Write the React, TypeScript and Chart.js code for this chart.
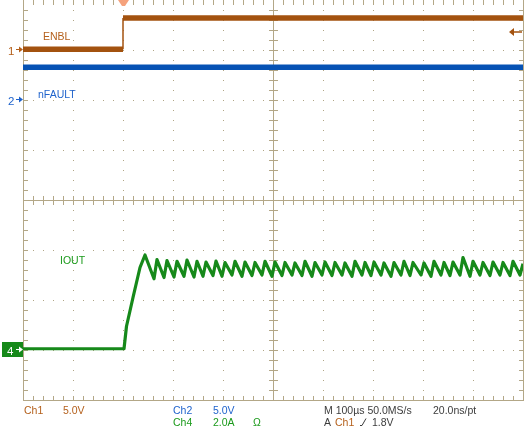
import React, { useEffect, useRef } from "react";
import { Chart, registerables } from "chart.js";

Chart.register(...registerables);

// ---- data (time in µs, M = 100 µs/div, trigger at t = 0) ----
const timeRange = [-200, 800];

// Ch1 ENBL, 5.0 V/div
const enblTimes = [-200, 0, 0, 800];
const enblVolts = [0.08, 0.08, 3.2, 3.2];

// Ch2 nFAULT, 5.0 V/div
const nfaultTimes = [-200, 800];
const nfaultVolts = [3.27, 3.27];

// Ch4 IOUT, 2.0 A/div
const ioutTimes = [
  -200, 2, 7, 20, 34, 44,
  62, 68, 82, 88, 102, 108, 122, 128, 142, 148, 160, 166, 180, 186,
  198, 204, 218, 224, 238, 244, 258, 264, 278, 284, 298, 304, 318, 324,
  338, 344, 358, 364, 378, 384, 398, 404, 418, 424, 438, 444, 458, 464,
  478, 484, 496, 502, 516, 522, 536, 542, 556, 562, 574, 580, 596, 602,
  616, 622, 636, 642, 654, 660, 674, 680, 694, 700, 714, 720, 734, 740,
  754, 760, 774, 780, 794, 800,
];
const ioutAmps = [
  0.05, 0.05, 0.95, 2.1, 3.3, 3.8,
  2.85, 3.62, 2.9, 3.58, 2.92, 3.55, 2.95, 3.6, 2.92, 3.55, 2.95, 3.52, 2.98, 3.56,
  2.95, 3.5, 3.0, 3.55, 2.95, 3.52, 2.98, 3.5, 3.0, 3.55, 2.95, 3.52, 2.98, 3.5,
  3.0, 3.48, 2.98, 3.55, 2.95, 3.5, 3.0, 3.52, 2.98, 3.5, 3.0, 3.48, 2.95, 3.55,
  3.0, 3.5, 2.98, 3.52, 3.0, 3.48, 2.95, 3.5, 3.0, 3.55, 2.98, 3.5, 3.0, 3.48,
  2.95, 3.55, 3.0, 3.5, 2.98, 3.52, 3.0, 3.7, 2.95, 3.55, 3.0, 3.5, 2.98, 3.52,
  3.0, 3.5, 2.98, 3.55, 3.0, 3.45,
];

// axis ranges per channel (8 divisions tall)
const ch1Range = [-35, 5];
const ch2Range = [-30, 10];
const ch4Range = [-2, 14];

// labels
const traceLabels = ["ENBL", "nFAULT", "IOUT"];
const ch1Setting = ["Ch1", "5.0V"];
const ch2Setting = ["Ch2", "5.0V"];
const ch4Setting = ["Ch4", "2.0A", "Ω"];
const timebaseText = ["M 100µs 50.0MS/s", "20.0ns/pt"];
const triggerText = ["A", "Ch1", "1.8V"];
const triggerLevel = 1.8;

// ---- styles ----
const ENBL_C = "#a3520f";
const ENBL_T = "#b4601c";
const NF_C = "#0652b4";
const NF_T = "#1f63cc";
const IO_C = "#16891a";
const IO_T = "#1b9a1b";
const GRID = "#b3a787";
const DOT = "#b0a585";
const DARK = "#3c3c3c";
const FONT = "10.5px 'Liberation Sans', Arial, sans-serif";

const pts = (xs: number[], ys: number[]) => xs.map((x, i) => ({ x, y: ys[i] }));

const gridPlugin = {
  id: "scopeGrid",
  beforeDatasetsDraw(chart: any) {
    const { ctx, chartArea: a } = chart;
    const L = a.left, R = a.right, T = a.top, B = a.bottom;
    const dx = (R - L) / 10, dy = (B - T) / 8;
    const mx = dx / 5, my = dy / 5;
    ctx.save();
    ctx.fillStyle = DOT;
    for (let i = 1; i < 10; i++) {
      if (i === 5) continue;
      const x = Math.round(L + i * dx);
      for (let k = 1; k < 40; k++) ctx.fillRect(x, Math.round(T + k * my), 1, 1);
    }
    for (let j = 1; j < 8; j++) {
      if (j === 4) continue;
      const y = Math.round(T + j * dy);
      for (let k = 1; k < 50; k++) ctx.fillRect(Math.round(L + k * mx), y, 1, 1);
    }
    ctx.strokeStyle = GRID;
    ctx.lineWidth = 1;
    const cx = Math.round(L + 5 * dx) + 0.5;
    const cy = Math.round(T + 4 * dy) + 0.5;
    ctx.beginPath();
    ctx.moveTo(cx, T); ctx.lineTo(cx, B);
    ctx.moveTo(L, cy); ctx.lineTo(R, cy);
    ctx.moveTo(L + 0.5, T); ctx.lineTo(L + 0.5, B + 1);
    ctx.moveTo(R + 0.5, T); ctx.lineTo(R + 0.5, B + 1);
    ctx.moveTo(L, B + 0.5); ctx.lineTo(R + 1, B + 0.5);
    for (let k = 1; k < 50; k++) {
      const x = Math.round(L + k * mx) + 0.5;
      ctx.moveTo(x, cy - 4.5); ctx.lineTo(x, cy + 4.5);
      ctx.moveTo(x, B + 1); ctx.lineTo(x, B - 4);
      ctx.moveTo(x, T); ctx.lineTo(x, T + 5);
    }
    for (let k = 1; k < 40; k++) {
      const y = Math.round(T + k * my) + 0.5;
      ctx.moveTo(cx - 4.5, y); ctx.lineTo(cx + 4.5, y);
      ctx.moveTo(L, y); ctx.lineTo(L + 5, y);
      ctx.moveTo(R + 1, y); ctx.lineTo(R - 4, y);
    }
    ctx.stroke();
    ctx.restore();
  },
};

function arrowRight(ctx: any, x0: number, x1: number, y: number, color: string) {
  ctx.strokeStyle = color;
  ctx.fillStyle = color;
  ctx.lineWidth = 1;
  ctx.beginPath();
  ctx.moveTo(x0, y + 0.5); ctx.lineTo(x1 - 3, y + 0.5);
  ctx.stroke();
  ctx.beginPath();
  ctx.moveTo(x1, y + 0.5); ctx.lineTo(x1 - 4, y - 2.5); ctx.lineTo(x1 - 4, y + 3.5);
  ctx.closePath(); ctx.fill();
}

const overlayPlugin = {
  id: "scopeOverlay",
  afterDraw(chart: any) {
    const { ctx, chartArea: a, scales } = chart;
    ctx.save();
    ctx.font = FONT;
    ctx.textBaseline = "alphabetic";
    ctx.textAlign = "left";

    ctx.fillStyle = ENBL_T; ctx.fillText(traceLabels[0], 43, 40);
    ctx.fillStyle = NF_T; ctx.fillText(traceLabels[1], 38, 98);
    ctx.fillStyle = IO_T; ctx.fillText(traceLabels[2], 60, 264);

    const g1 = Math.round(scales.y1.getPixelForValue(0));
    const g2 = Math.round(scales.y2.getPixelForValue(0));
    const g4 = Math.round(scales.y4.getPixelForValue(0));
    ctx.font = "11.5px 'Liberation Sans', Arial, sans-serif";
    ctx.fillStyle = ENBL_T; ctx.fillText("1", 8, g1 + 5);
    arrowRight(ctx, 16, a.left, g1 - 1, ENBL_T);
    ctx.fillStyle = NF_T; ctx.fillText("2", 8, g2 + 5);
    arrowRight(ctx, 16, a.left, g2 - 1, NF_T);
    ctx.fillStyle = IO_C; ctx.fillRect(2, g4 - 8, a.left - 2, 15);
    ctx.fillStyle = "#ffffff"; ctx.fillText("4", 7, g4 + 5);
    arrowRight(ctx, 16, a.left, g4 - 1, "#ffffff");
    ctx.font = FONT;

    const tl = Math.round(scales.y1.getPixelForValue(triggerLevel));
    ctx.strokeStyle = ENBL_C; ctx.fillStyle = ENBL_C; ctx.lineWidth = 1.5;
    ctx.beginPath(); ctx.moveTo(a.right - 12, tl); ctx.lineTo(a.right - 1, tl); ctx.stroke();
    ctx.beginPath(); ctx.moveTo(a.right - 14, tl); ctx.lineTo(a.right - 9, tl - 4); ctx.lineTo(a.right - 9, tl + 4); ctx.closePath(); ctx.fill();

    const tx = scales.x.getPixelForValue(0) + 0.5;
    ctx.fillStyle = "#f5a27c";
    ctx.beginPath();
    ctx.moveTo(tx - 5.5, a.top);
    ctx.lineTo(tx + 5.5, a.top);
    ctx.lineTo(tx + 1.5, a.top + 6);
    ctx.lineTo(tx - 1.5, a.top + 6);
    ctx.closePath(); ctx.fill();

    const r1 = a.bottom + 14, r2 = a.bottom + 26;
    ctx.fillStyle = ENBL_T;
    ctx.fillText(ch1Setting[0], 24, r1); ctx.fillText(ch1Setting[1], 63, r1);
    ctx.fillStyle = NF_T;
    ctx.fillText(ch2Setting[0], 173, r1); ctx.fillText(ch2Setting[1], 213, r1);
    ctx.fillStyle = IO_T;
    ctx.fillText(ch4Setting[0], 173, r2); ctx.fillText(ch4Setting[1], 213, r2); ctx.fillText(ch4Setting[2], 253, r2);
    ctx.fillStyle = DARK;
    ctx.fillText(timebaseText[0], 324, r1); ctx.fillText(timebaseText[1], 433, r1);
    ctx.fillText(triggerText[0], 324, r2);
    ctx.fillStyle = ENBL_T; ctx.fillText(triggerText[1], 335, r2);
    ctx.fillStyle = DARK; ctx.fillText(triggerText[2], 372, r2);
    ctx.strokeStyle = DARK; ctx.lineWidth = 1;
    ctx.beginPath(); ctx.moveTo(360, r2 - 0.5); ctx.lineTo(362, r2 - 0.5); ctx.lineTo(366, r2 - 7.5); ctx.stroke();
    ctx.restore();
  },
};

export default function App() {
  const ref = useRef<HTMLCanvasElement>(null);
  useEffect(() => {
    const chart = new Chart(ref.current as HTMLCanvasElement, {
      type: "line",
      data: {
        datasets: [
          { label: "ENBL low", data: pts(enblTimes.slice(0, 2), enblVolts.slice(0, 2)), yAxisID: "y1", borderColor: ENBL_C, borderWidth: 5.5 },
          { label: "ENBL edge", data: pts(enblTimes.slice(1, 3), enblVolts.slice(1, 3)), yAxisID: "y1", borderColor: ENBL_C, borderWidth: 1.5 },
          { label: "ENBL high", data: pts(enblTimes.slice(2), enblVolts.slice(2)), yAxisID: "y1", borderColor: ENBL_C, borderWidth: 5.5 },
          { label: "nFAULT", data: pts(nfaultTimes, nfaultVolts), yAxisID: "y2", borderColor: NF_C, borderWidth: 5.5 },
          { label: "IOUT", data: pts(ioutTimes, ioutAmps), yAxisID: "y4", borderColor: IO_C, borderWidth: 3.2, borderJoinStyle: "round" },
        ] as any,
      },
      options: {
        animation: false,
        responsive: false,
        events: [],
        layout: { padding: { left: 23, right: 1, top: 0, bottom: 40 } },
        elements: { point: { radius: 0 }, line: { tension: 0 } },
        plugins: { legend: { display: false }, tooltip: { enabled: false } },
        scales: {
          x: { type: "linear", min: timeRange[0], max: timeRange[1], display: false },
          y1: { type: "linear", min: ch1Range[0], max: ch1Range[1], display: false },
          y2: { type: "linear", min: ch2Range[0], max: ch2Range[1], display: false },
          y4: { type: "linear", min: ch4Range[0], max: ch4Range[1], display: false },
        },
      },
      plugins: [gridPlugin, overlayPlugin],
    });
    return () => chart.destroy();
  }, []);
  return (
    <div style={{ position: "absolute", left: 0, top: 0, width: 524, height: 440, background: "#ffffff" }}>
      <canvas ref={ref} width={524} height={440} style={{ display: "block", width: 524, height: 440 }} />
    </div>
  );
}
